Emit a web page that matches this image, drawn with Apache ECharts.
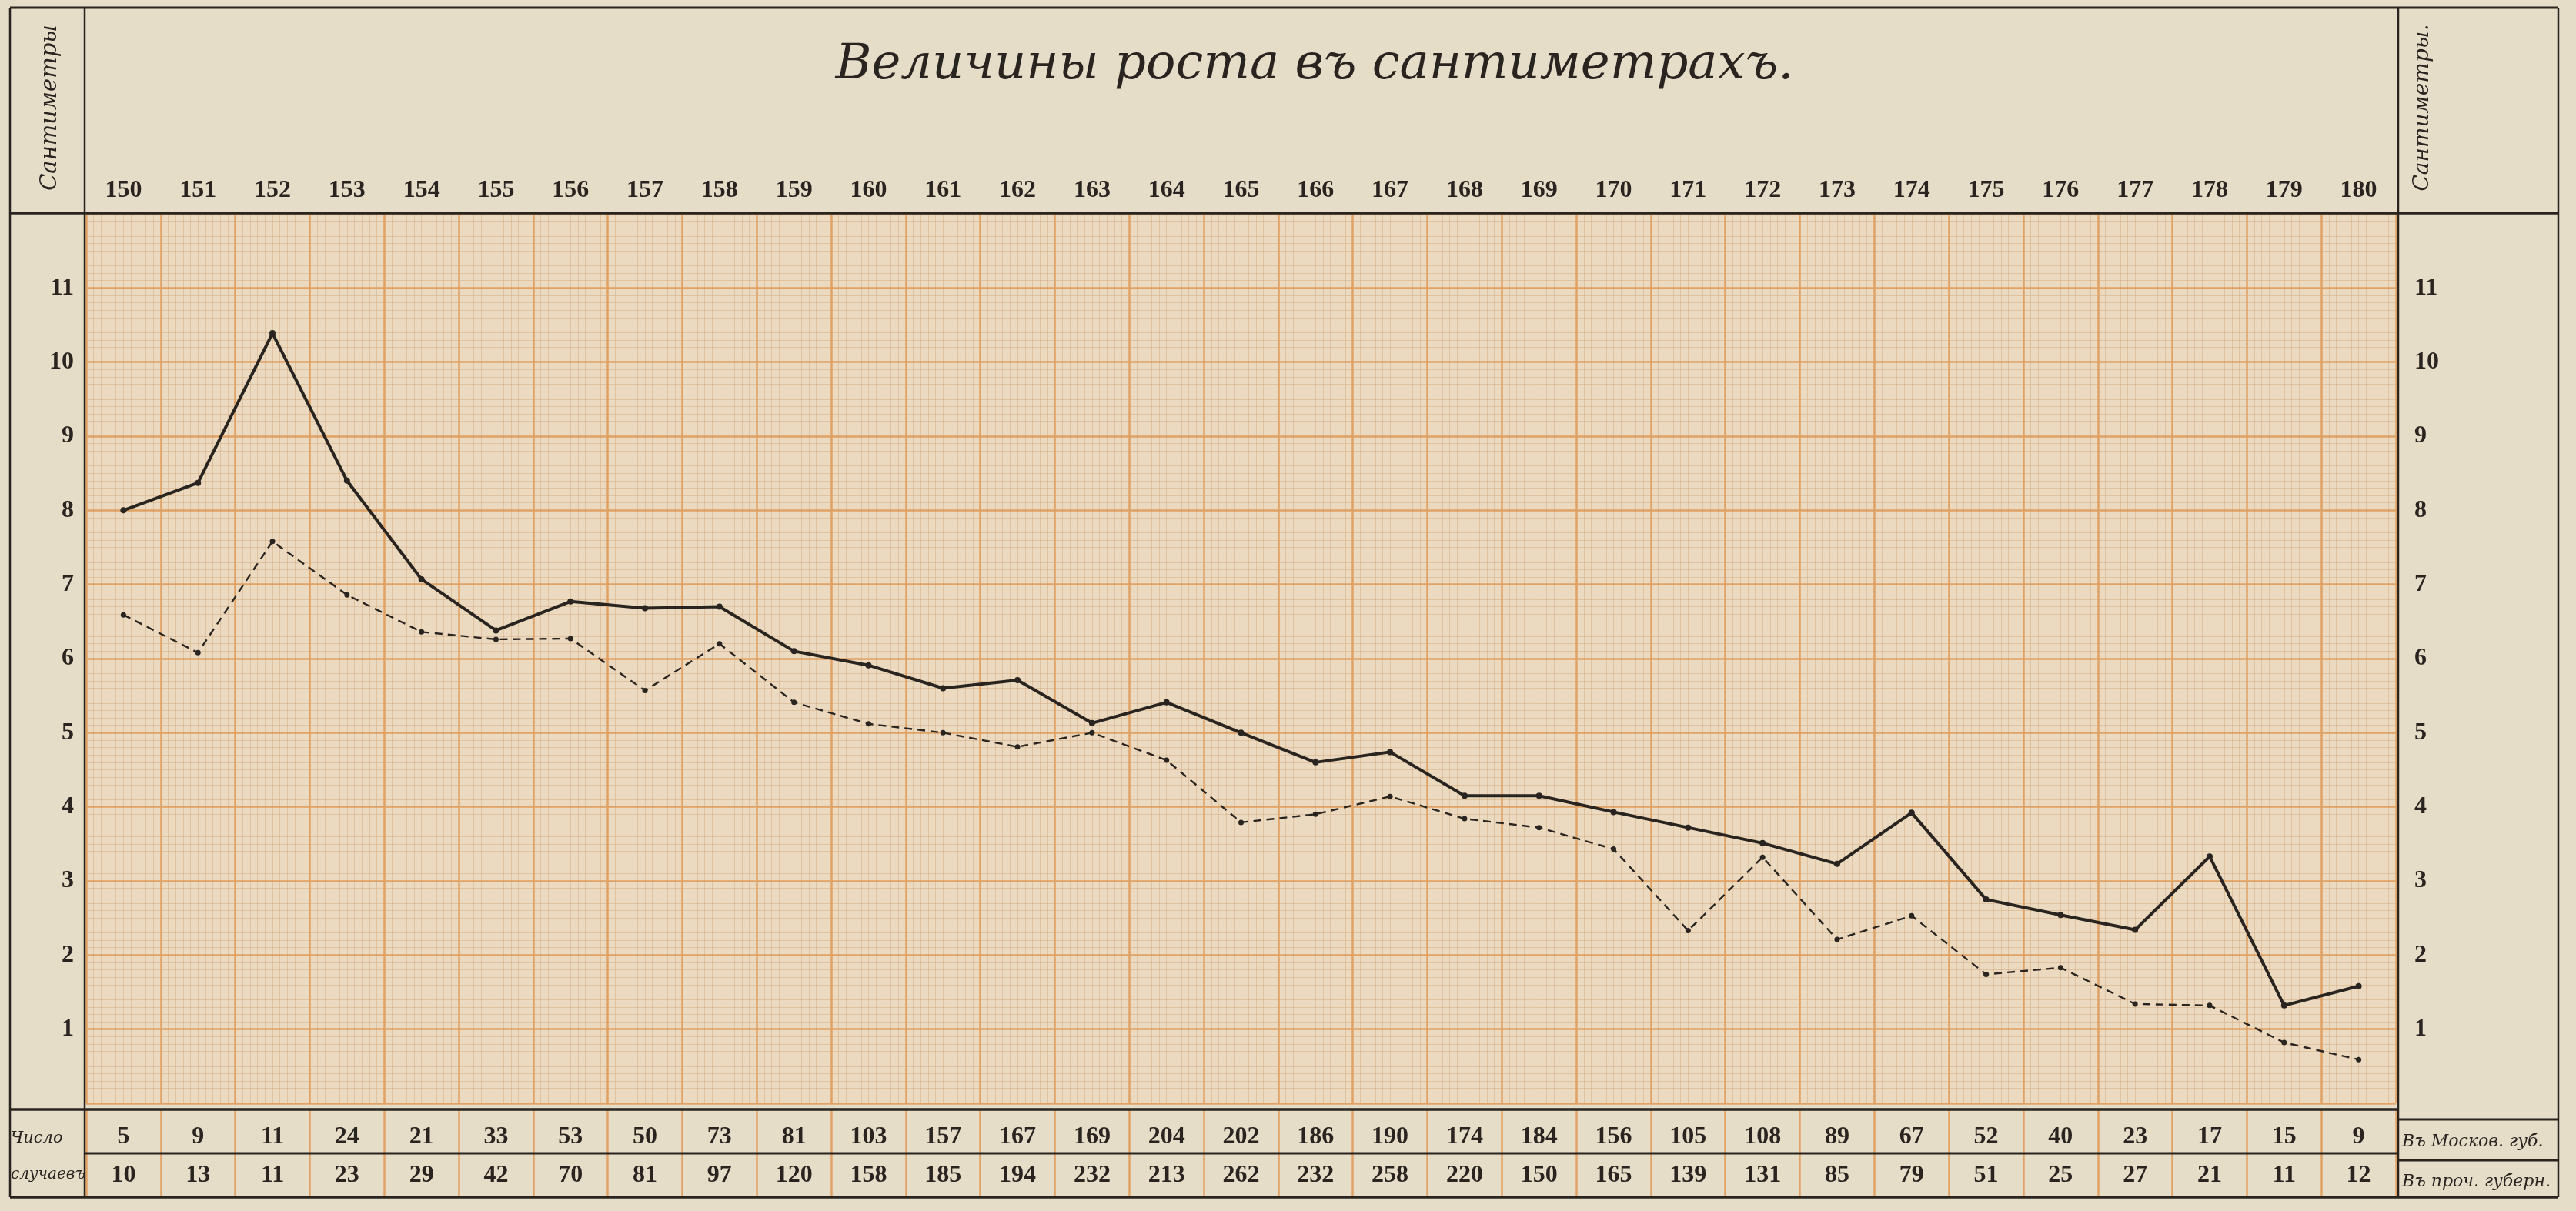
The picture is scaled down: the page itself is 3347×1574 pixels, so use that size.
<!DOCTYPE html>
<html><head><meta charset="utf-8">
<script src="https://cdn.jsdelivr.net/npm/echarts@6/dist/echarts.min.js"></script>
<style>html,body{margin:0;padding:0;background:#e5ddc7;}#c{width:3347px;height:1574px;}</style>
</head><body><div id="c"></div>
<script>
// Categories: stature in centimetres
const heights = ['150','151','152','153','154','155','156','157','158','159','160','161','162','163','164','165','166','167','168','169','170','171','172','173','174','175','176','177','178','179','180'];
// Solid line values (cm)
const moscowValues = [8.0,8.37,10.39,8.4,7.07,6.38,6.77,6.68,6.7,6.1,5.91,5.6,5.71,5.13,5.41,5.0,4.6,4.74,4.15,4.15,3.93,3.72,3.51,3.23,3.92,2.75,2.54,2.34,3.33,1.32,1.58];
// Dashed line values (cm)
const otherValues = [6.59,6.08,7.58,6.86,6.36,6.26,6.27,5.57,6.2,5.41,5.12,5.0,4.81,5.0,4.63,3.79,3.9,4.14,3.84,3.72,3.43,2.33,3.32,2.21,2.53,1.74,1.83,1.34,1.32,0.82,0.59];
// Table rows: number of cases
const moscowCounts = [5,9,11,24,21,33,53,50,73,81,103,157,167,169,204,202,186,190,174,184,156,105,108,89,67,52,40,23,17,15,9];
const otherCounts = [10,13,11,23,29,42,70,81,97,120,158,185,194,232,213,262,232,258,220,150,165,139,131,85,79,51,25,27,21,11,12];
// Texts
const titleText = 'Величины роста въ сантиметрахъ.';
const unitLeft = 'Сантиметры';
const unitRight = 'Сантиметры.';
const rowHead = ['Число', 'случаевъ'];
const rowNames = ['Въ Москов. губ.', 'Въ проч. губерн.'];

const ink = '#2a2420';
const orange = '#e0a264';
const minor = 'rgba(200,150,100,0.33)';
const numFont = {fontFamily:'Liberation Serif', fontWeight:'bold', fontSize:32, color:ink};
const scriptFont = 'DejaVu Serif';

const GL = 112, GW = 3001;

function hline(x1, x2, y, w){ return {type:'line', z:100, shape:{x1:x1,y1:y,x2:x2,y2:y}, style:{stroke:ink, lineWidth:w}}; }
function vline(x, y1, y2, w){ return {type:'line', z:100, shape:{x1:x,y1:y1,x2:x,y2:y2}, style:{stroke:ink, lineWidth:w}}; }
function txt(x, y, t, size, align, rot){
  return {type:'text', z:100, x:x, y:y, rotation:rot||0,
    style:{text:t, fontFamily:scriptFont, fontStyle:'italic', fontSize:size, fill:ink, align:align||'left', verticalAlign:'middle'}};
}

const chart = echarts.init(document.getElementById('c'), null, {renderer:'canvas'});
chart.setOption({
  animation:false,
  backgroundColor:'#e5ddc7',
  title:{text:titleText, left:1703, top:48, textAlign:'center',
    textStyle:{fontFamily:scriptFont, fontStyle:'italic', fontWeight:'normal', fontSize:64, color:ink}},
  grid:[
    {left:GL, top:278, width:GW, height:1156, show:true, backgroundColor:'#ebdabf', borderWidth:0},
    {left:GL, top:1442, width:GW, height:57, show:false},
    {left:GL, top:1499, width:GW, height:56, show:false}
  ],
  xAxis:[
    {type:'category', gridIndex:0, position:'top', data:heights, boundaryGap:true,
      axisLine:{show:false}, axisTick:{show:false}, splitLine:{show:false},
      axisLabel:Object.assign({interval:0, margin:14}, numFont)},
    {type:'value', gridIndex:0, position:'bottom', min:0, max:31, interval:1,
      axisLine:{show:false}, axisTick:{show:false}, axisLabel:{show:false},
      splitLine:{show:true, lineStyle:{color:orange, width:2.5}},
      minorTick:{show:false, splitNumber:10},
      minorSplitLine:{show:true, lineStyle:{color:minor, width:1}}},
    {type:'category', gridIndex:1, position:'top', data:heights, boundaryGap:true,
      axisLine:{show:false}, axisTick:{show:false},
      splitLine:{show:true, interval:0, lineStyle:{color:orange, width:2.5}},
      axisLabel:Object.assign({interval:0, inside:true, margin:36, verticalAlign:'middle',
        formatter:function(v,i){return String(moscowCounts[i]);}}, numFont)},
    {type:'category', gridIndex:2, position:'top', data:heights, boundaryGap:true,
      axisLine:{show:false}, axisTick:{show:false},
      splitLine:{show:true, interval:0, lineStyle:{color:orange, width:2.5}},
      axisLabel:Object.assign({interval:0, inside:true, margin:29, verticalAlign:'middle',
        formatter:function(v,i){return String(otherCounts[i]);}}, numFont)}
  ],
  yAxis:[
    {type:'value', gridIndex:0, position:'left', min:0, max:12, interval:1,
      axisLine:{show:false}, axisTick:{show:false},
      axisLabel:Object.assign({margin:16, formatter:function(v){return (v>0&&v<12)?String(v):'';}}, numFont),
      splitLine:{show:true, lineStyle:{color:orange, width:2.5}},
      minorTick:{show:false, splitNumber:10},
      minorSplitLine:{show:true, lineStyle:{color:minor, width:1}}},
    {type:'value', gridIndex:0, position:'right', min:0, max:12, interval:1,
      axisLine:{show:false}, axisTick:{show:false}, splitLine:{show:false},
      axisLabel:Object.assign({margin:24, formatter:function(v){return (v>0&&v<12)?String(v):'';}}, numFont)},
    {type:'value', gridIndex:1, show:false, min:0, max:1},
    {type:'value', gridIndex:2, show:false, min:0, max:1}
  ],
  series:[
    {name:rowNames[0], type:'line', xAxisIndex:0, yAxisIndex:0, data:moscowValues,
      symbol:'circle', symbolSize:8, z:10,
      lineStyle:{color:ink, width:4}, itemStyle:{color:ink}},
    {name:rowNames[1], type:'line', xAxisIndex:0, yAxisIndex:0, data:otherValues,
      symbol:'circle', symbolSize:7, z:9,
      lineStyle:{color:ink, width:2.4, type:[10,7]}, itemStyle:{color:ink}}
  ],
  graphic:[
    hline(13, 3324, 10, 3),
    hline(13, 3324, 277, 3.5),
    hline(13, 3116, 1442, 3.5),
    hline(110, 3116, 1499, 3),
    hline(3116, 3324, 1455, 3),
    hline(3116, 3324, 1508, 3),
    hline(13, 3324, 1556, 3.5),
    vline(13, 10, 1556, 2.5),
    vline(110, 10, 1556, 2.5),
    vline(3116, 10, 1556, 2.5),
    vline(3324, 10, 1556, 2.5),
    txt(65, 140, unitLeft, 29, 'center', Math.PI/2),
    txt(3148, 140, unitRight, 28, 'center', Math.PI/2),
    txt(14, 1480, rowHead[0], 21, 'left'),
    txt(14, 1527, rowHead[1], 20, 'left'),
    txt(3121, 1484, rowNames[0], 22, 'left'),
    txt(3121, 1536, rowNames[1], 22, 'left')
  ]
});
</script></body></html>
